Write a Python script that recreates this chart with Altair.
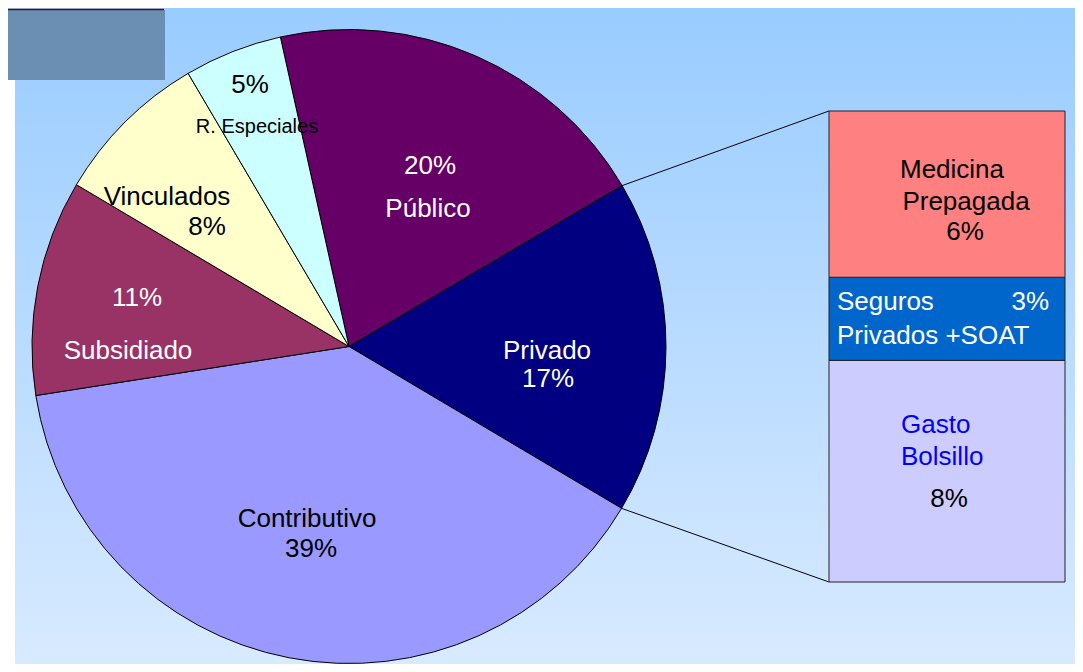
import math
import altair as alt
import pandas as pd

# ---- data ----
pie_categories = ["Público", "Privado", "Contributivo", "Subsidiado", "Vinculados", "R. Especiales"]
pie_values = [20, 17, 39, 11, 8, 5]
pie_colors = ["#660066", "#000080", "#9999ff", "#993366", "#ffffcc", "#ccffff"]

bar_categories = ["Gasto Bolsillo", "Seguros Privados +SOAT", "Medicina Prepagada"]
bar_values = [8, 3, 6]
bar_colors = ["#ccccff", "#0066cc", "#ff8080"]

# ---- layout (styling constants) ----
W, H = 1067, 656
CX, CY, R = 341, 338.5, 317
A0 = math.radians(347.5)
BX0, BX1, BY0, BY1 = 821, 1057, 103, 574
FONT = "Liberation Sans"

one = pd.DataFrame({"k": [0]})

bg = alt.Chart(one).mark_rect(
    color=alt.LinearGradient(
        gradient="linear",
        stops=[alt.GradientStop(color="#99ccff", offset=0),
               alt.GradientStop(color="#d8eaff", offset=1)],
        x1=0, x2=0, y1=0, y2=1,
    )
).encode(x=alt.value(7), x2=alt.value(W), y=alt.value(0), y2=alt.value(H))

box1 = alt.Chart(one).mark_rect(color="#6b8fb3").encode(
    x=alt.value(0), x2=alt.value(157), y=alt.value(2), y2=alt.value(72))
box2 = alt.Chart(one).mark_rect(color="#ccccff").encode(
    x=alt.value(0), x2=alt.value(155), y=alt.value(0), y2=alt.value(2))
box2b = alt.Chart(one).mark_rule(color="#222", strokeWidth=1.5).encode(
    x=alt.value(0), x2=alt.value(156), y=alt.value(1.5))

pie_df = pd.DataFrame({"cat": pie_categories, "val": pie_values, "ord": list(range(len(pie_values)))})
pie = alt.Chart(pie_df).mark_arc(radius=R, stroke="black", strokeWidth=1).encode(
    theta=alt.Theta("val:Q", stack=True, scale=alt.Scale(range=[A0, A0 + 2 * math.pi])),
    color=alt.Color("cat:N", scale=alt.Scale(domain=pie_categories, range=pie_colors), legend=None),
    order=alt.Order("ord:Q"),
    x=alt.value(CX), y=alt.value(CY),
)

bar_df = pd.DataFrame({"cat": bar_categories, "val": bar_values, "ord": list(range(len(bar_values)))})
bar = alt.Chart(bar_df).transform_window(
    y1="sum(val)", sort=[alt.SortField("ord")], frame=[None, 0]
).transform_calculate(
    y0="datum.y1 - datum.val"
).mark_rect(stroke="#222", strokeWidth=1).encode(
    x=alt.value(BX0), x2=alt.value(BX1),
    y=alt.Y("y0:Q", axis=None,
            scale=alt.Scale(domain=[0, sum(bar_values)], range=[BY1, BY0])),
    y2="y1:Q",
    color=alt.Color("cat:N", scale=alt.Scale(domain=bar_categories, range=bar_colors), legend=None),
)

# connector lines from the Privado slice edges to the bar corners
tot = sum(pie_values)
f1 = pie_values[0] / tot
f2 = (pie_values[0] + pie_values[1]) / tot
a1 = A0 + f1 * 2 * math.pi
a2 = A0 + f2 * 2 * math.pi
p1 = (CX + R * math.sin(a1), CY - R * math.cos(a1))
p2 = (CX + R * math.sin(a2), CY - R * math.cos(a2))
line1 = alt.Chart(one).mark_rule(color="black", strokeWidth=1).encode(
    x=alt.value(p1[0]), y=alt.value(p1[1]), x2=alt.value(BX0), y2=alt.value(BY0))
line2 = alt.Chart(one).mark_rule(color="black", strokeWidth=1).encode(
    x=alt.value(p2[0]), y=alt.value(p2[1]), x2=alt.value(BX0), y2=alt.value(BY1))


def label(text, x, y, color="black", size=26, align="center"):
    return alt.Chart(one).mark_text(
        text=text, font=FONT, fontSize=size, color=color, align=align, baseline="middle"
    ).encode(x=alt.value(x), y=alt.value(y))


pct = lambda v: f"{v}%"
labels = [
    label(pct(pie_values[5]), 242, 77),
    label("R. Especiales", 249, 119, size=20),
    label(pct(pie_values[0]), 422, 158, "white"),
    label("Público", 420, 201, "white"),
    label("Vinculados", 159, 189),
    label(pct(pie_values[4]), 199, 219),
    label(pct(pie_values[3]), 129, 290, "white"),
    label("Subsidiado", 120, 343, "white"),
    label("Privado", 539, 343, "white"),
    label(pct(pie_values[1]), 540, 371, "white"),
    label("Contributivo", 299, 511),
    label(pct(pie_values[2]), 303, 541),
    label("Medicina", 944, 162),
    label("Prepagada", 958, 194),
    label(pct(bar_values[2]), 957, 224),
    label("Seguros", 829, 294, "white", align="left"),
    label(pct(bar_values[1]), 1041, 294, "white", align="right"),
    label("Privados +SOAT", 829, 328, "white", align="left"),
    label("Gasto", 893, 417, "#0000ff", align="left"),
    label("Bolsillo", 893, 449, "#0000ff", align="left"),
    label(pct(bar_values[0]), 941, 491),
]

chart = alt.layer(
    bg, box1, box2, box2b, line1, line2, pie, bar, *labels
).resolve_scale(color="independent").properties(
    width=W, height=H, autosize="none", padding=0
).configure_view(stroke=None)

chart.save("out.html", embed_options={"renderer": "svg", "actions": False})
